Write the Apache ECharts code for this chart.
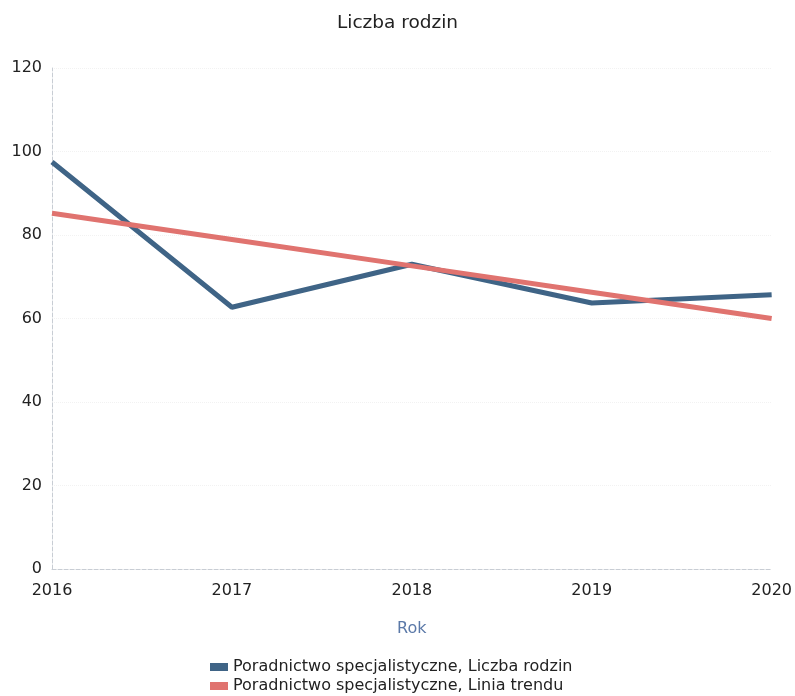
<!DOCTYPE html>
<html><head><meta charset="utf-8">
<script src="https://cdn.jsdelivr.net/npm/echarts@6/dist/echarts.min.js"></script>
<style>html,body{margin:0;padding:0;background:#fff}#c{width:795px;height:696px}</style>
</head><body><div id="c"></div>
<script>
const years = ['2016','2017','2018','2019','2020'];
const liczbaRodzin = [97.5, 62.7, 73, 63.7, 65.7];
const liniaTrendu = [85.2, 78.9, 72.6, 66.3, 60.0];
const yTicks = [0, 20, 40, 60, 80, 100, 120];
const seriesNames = ['Poradnictwo specjalistyczne, Liczba rodzin', 'Poradnictwo specjalistyczne, Linia trendu'];

const legendBase = {orient: 'vertical', left: 210, itemWidth: 18, itemHeight: 8, padding: 0,
  icon: 'rect', textStyle: {fontSize: 16, color: '#222', fontFamily: 'DejaVu Sans'}};

const chart = echarts.init(document.getElementById('c'));
chart.setOption({
  animation: false,
  textStyle: {fontFamily: 'DejaVu Sans'},
  title: {text: 'Liczba rodzin', left: 'center', top: 9,
    textStyle: {fontSize: 18.5, fontWeight: 'normal', color: '#222', fontFamily: 'DejaVu Sans'}},
  grid: {left: 52, right: 20, top: 68, bottom: 127},
  legend: [
    Object.assign({}, legendBase, {top: 659, data: [seriesNames[0]]}),
    Object.assign({}, legendBase, {top: 678, data: [seriesNames[1]]})
  ],
  xAxis: {type: 'category', data: years, boundaryGap: false,
    name: 'Rok', nameLocation: 'middle', nameGap: 52,
    nameTextStyle: {color: '#5b79a8', fontSize: 16, fontFamily: 'DejaVu Sans'},
    axisLine: {show: true, lineStyle: {color: '#c8cdd4', type: 'dashed', width: 1}},
    axisTick: {show: false},
    axisLabel: {fontSize: 16, color: '#222', margin: 14, fontFamily: 'DejaVu Sans'},
    splitLine: {show: false}},
  yAxis: {type: 'value', min: yTicks[0], max: yTicks[yTicks.length-1], interval: 20,
    axisLine: {show: true, lineStyle: {color: '#c8cdd4', type: 'dashed', width: 1}},
    axisTick: {show: false},
    axisLabel: {fontSize: 16, color: '#222', margin: 10, fontFamily: 'DejaVu Sans'},
    splitLine: {show: true, lineStyle: {color: '#f2f2f2', type: 'dotted'}}},
  series: [
    {name: seriesNames[0], type: 'line', data: liczbaRodzin,
      symbol: 'none', lineStyle: {color: '#3f6486', width: 5}, itemStyle: {color: '#3f6486'}},
    {name: seriesNames[1], type: 'line', data: liniaTrendu,
      symbol: 'none', lineStyle: {color: '#e0736f', width: 5}, itemStyle: {color: '#e0736f'}}
  ]
});
</script></body></html>
